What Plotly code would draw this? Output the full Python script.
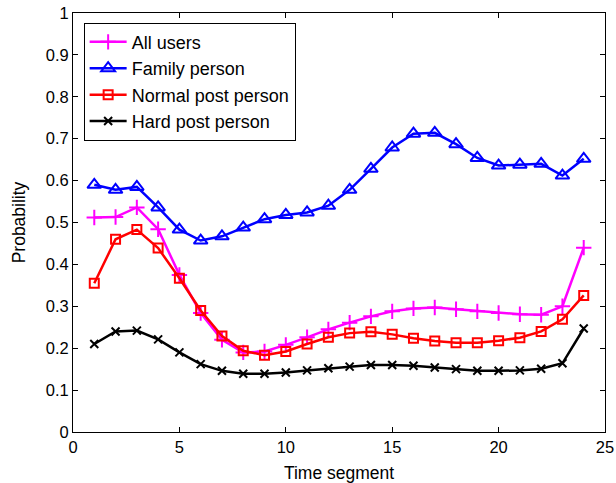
import plotly.graph_objects as go

# Time segments 1..24
segments = list(range(1, 25))

all_users = [0.512, 0.513, 0.536, 0.484, 0.375, 0.284, 0.220, 0.190, 0.192, 0.208,
             0.226, 0.245, 0.261, 0.276, 0.288, 0.295, 0.297, 0.293, 0.288, 0.284,
             0.281, 0.280, 0.300, 0.440]
family_person = [0.590, 0.578, 0.585, 0.536, 0.483, 0.457, 0.467, 0.488, 0.508, 0.518,
                 0.524, 0.540, 0.578, 0.628, 0.679, 0.712, 0.714, 0.687, 0.654, 0.636,
                 0.638, 0.640, 0.612, 0.652]
normal_post = [0.355, 0.460, 0.483, 0.439, 0.367, 0.290, 0.229, 0.194, 0.183, 0.192,
               0.210, 0.226, 0.236, 0.239, 0.233, 0.224, 0.217, 0.213, 0.213, 0.218,
               0.225, 0.240, 0.269, 0.326]
hard_post = [0.210, 0.240, 0.242, 0.221, 0.190, 0.162, 0.146, 0.139, 0.139, 0.142,
             0.147, 0.152, 0.156, 0.160, 0.160, 0.158, 0.154, 0.150, 0.146, 0.146,
             0.147, 0.151, 0.164, 0.247]

x_ticks = [0, 5, 10, 15, 20, 25]
y_ticks = [0, 0.1, 0.2, 0.3, 0.4, 0.5, 0.6, 0.7, 0.8, 0.9, 1]
y_tick_text = ["0", "0.1", "0.2", "0.3", "0.4", "0.5", "0.6", "0.7", "0.8", "0.9", "1"]

series = [
    ("All users", all_users, "#ff00ff", "cross-thin-open", 11),
    ("Family person", family_person, "#0000ff", "triangle-up-open", 12),
    ("Normal post person", normal_post, "#ff0000", "square-open", 9),
    ("Hard post person", hard_post, "#000000", "x-thin-open", 8),
]

fig = go.Figure()
for name, vals, color, symbol, size in series:
    fig.add_trace(go.Scatter(
        x=segments, y=vals, name=name, mode="lines+markers",
        line=dict(color=color, width=2.5),
        marker=dict(symbol=symbol, size=size, color=color,
                    line=dict(color=color, width=2)),
    ))

font_family = "Liberation Sans, Arial, Helvetica, sans-serif"
axis_common = dict(
    showgrid=False, zeroline=False, showline=True, linecolor="black",
    linewidth=1, mirror="ticks", ticks="inside", ticklen=5,
    tickcolor="black", tickfont=dict(size=16.5, color="black"),
    automargin=False,
)

fig.update_layout(
    width=616, height=483,
    margin=dict(l=73, r=11, t=13, b=51),
    paper_bgcolor="white", plot_bgcolor="white",
    font=dict(family=font_family, size=16.5, color="black"),
    xaxis=dict(range=[0, 25], tickvals=x_ticks,
               title=dict(text="Time segment", font=dict(size=17.5)),
               **axis_common),
    yaxis=dict(range=[0, 1], tickvals=y_ticks, ticktext=y_tick_text,
               title=dict(text="Probability", font=dict(size=17.5)),
               **axis_common),
    legend=dict(x=0.02, y=0.977, xanchor="left", yanchor="top",
                bgcolor="white", bordercolor="black", borderwidth=1,
                font=dict(size=18), itemwidth=37, tracegroupgap=0),
    showlegend=True,
)

fig.write_html("out.html")
